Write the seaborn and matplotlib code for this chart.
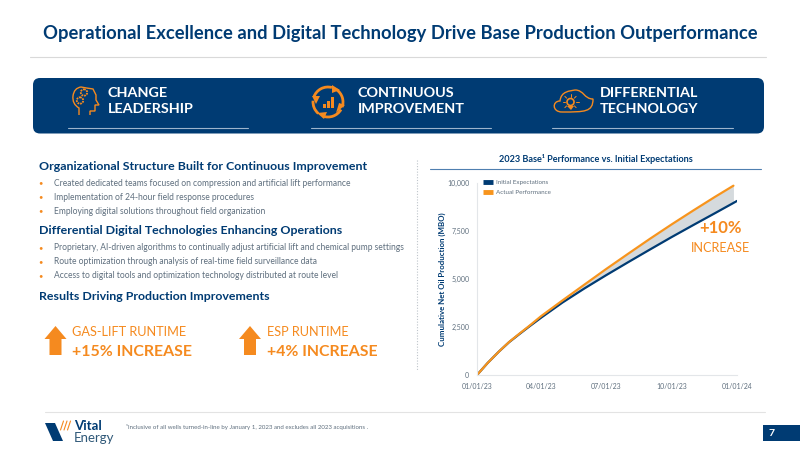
import numpy as np
import pandas as pd
import matplotlib
matplotlib.use('Agg')
import matplotlib.pyplot as plt
import matplotlib.dates as mdates
from matplotlib.patches import FancyBboxPatch, Polygon, Circle, Arc, Rectangle, PathPatch
from matplotlib.path import Path
import seaborn as sns

NAVY = '#003B73'
ORANGE = '#F58A1F'
LINE_ORANGE = '#F7941D'
GREY_TEXT = '#5F6F7E'

# chart data (MBO)
read_dates = ['2023-01-01', '2023-01-16', '2023-02-01', '2023-02-15', '2023-03-01', '2023-03-15', '2023-04-01',
              '2023-05-01', '2023-06-01', '2023-07-01', '2023-08-01', '2023-09-01', '2023-10-01', '2023-11-01',
              '2023-12-01', '2023-12-27']
initial_values = [0, 630, 1230, 1710, 2120, 2520, 2990, 3780, 4520, 5200, 5880, 6550, 7190, 7830, 8440, 8975]
actual_values = [0, 630, 1230, 1720, 2140, 2550, 3070, 3890, 4720, 5520, 6320, 7110, 7850, 8590, 9290, 9875]
initial_end = ('2024-01-01', 9080)

y_ticks = [0, 2500, 5000, 7500, 10000]
x_ticks = ['2023-01-01', '2023-04-01', '2023-07-01', '2023-10-01', '2024-01-01']

# slide text
title = 'Operational Excellence and Digital Technology Drive Base Production Outperformance'
pillars = ['CHANGE\nLEADERSHIP', 'CONTINUOUS\nIMPROVEMENT', 'DIFFERENTIAL\nTECHNOLOGY']
head_1 = 'Organizational Structure Built for Continuous Improvement'
bullets_1 = ['Created dedicated teams focused on compression and artificial lift performance',
             'Implementation of 24-hour field response procedures',
             'Employing digital solutions throughout field organization']
head_2 = 'Differential Digital Technologies Enhancing Operations'
bullets_2 = ['Proprietary, AI-driven algorithms to continually adjust artificial lift and chemical pump settings',
             'Route optimization through analysis of real-time field surveillance data',
             'Access to digital tools and optimization technology distributed at route level']
head_3 = 'Results Driving Production Improvements'

df_init = pd.DataFrame({'date': pd.to_datetime(read_dates + [initial_end[0]]),
                        'value': initial_values + [initial_end[1]]})
df_act = pd.DataFrame({'date': pd.to_datetime(read_dates), 'value': actual_values})

sns.set_theme(style='white')
plt.rcParams['font.family'] = ['Lato', 'DejaVu Sans']

fig = plt.figure(figsize=(8, 4.5), dpi=100, facecolor='white')

# background layer in slide pixels
bg = fig.add_axes([0, 0, 1, 1], zorder=0)
bg.set_xlim(0, 800)
bg.set_ylim(450, 0)
bg.axis('off')

bg.text(400.5, 33, title, ha='center', va='center', fontsize=13.2, fontweight='bold', color=NAVY)
bg.plot([30, 766], [57, 57], color='#D9D9D9', lw=0.8)

# banner
bg.add_patch(FancyBboxPatch((33, 78), 731, 55.5, boxstyle='round,pad=0,rounding_size=7', fc=NAVY, ec='none'))
for x0, s in zip([108, 358, 600], pillars):
    bg.text(x0, 101, s, ha='left', va='center', fontsize=10.4, fontweight='bold', color='white', linespacing=1.45)
for x0, x1 in [(68, 248), (311, 491), (552, 733)]:
    bg.plot([x0, x1], [127.5, 127.5], color='#9DB4CC', lw=0.8)

# head icon
head = Path([(79, 115), (79, 108), (72, 104), (73, 96), (74, 88), (81, 87), (86, 88), (93, 89), (96, 95), (96, 100),
             (99, 105), (95, 105), (95, 111), (90, 111), (90, 115)],
            [Path.MOVETO, Path.LINETO, Path.CURVE3, Path.CURVE3, Path.CURVE3, Path.CURVE3, Path.CURVE3, Path.CURVE3,
             Path.LINETO, Path.LINETO, Path.LINETO, Path.LINETO, Path.LINETO, Path.LINETO, Path.LINETO])
bg.add_patch(PathPatch(head, fc='none', ec=ORANGE, lw=1))
bg.add_patch(Circle((84, 92.5), 3.2, fc='none', ec=ORANGE, lw=1.3, ls=(0, (1, 0.5))))
bg.add_patch(Circle((80, 100.5), 3.2, fc='none', ec=ORANGE, lw=1.3, ls=(0, (1, 0.5))))

# improvement icon
for start, end in [(200, 285), (305, 20), (30, 110), (130, 185)]:
    bg.add_patch(Arc((328, 102), 30, 30, theta1=start, theta2=end, color=ORANGE, lw=2))
for pts in [[(332, 85), (340, 90), (332, 93)], [(345, 105), (336, 113), (339, 103)],
            [(324, 119), (317, 113), (327, 112)], [(312, 96), (320, 96), (316, 104)]]:
    bg.add_patch(Polygon(pts, fc=ORANGE, ec='none'))
for x0, h in [(323, 4), (327, 7), (331, 11)]:
    bg.add_patch(Rectangle((x0, 108 - h), 3, h, fc=ORANGE, ec='none'))

# cloud icon
cloud = Path([(562, 112), (552, 112), (552, 101), (560, 101), (561, 91), (570, 91), (575, 90), (584, 90), (584, 99),
              (593, 99), (593, 112), (585, 112), (562, 112)],
             [Path.MOVETO, Path.CURVE4, Path.CURVE4, Path.CURVE4, Path.CURVE4, Path.CURVE4, Path.CURVE4, Path.CURVE4,
              Path.CURVE4, Path.CURVE4, Path.CURVE4, Path.CURVE4, Path.LINETO])
bg.add_patch(PathPatch(cloud, fc='none', ec=ORANGE, lw=1))
bg.add_patch(Circle((570.5, 102), 3.5, fc='none', ec=ORANGE, lw=1.2))
bg.add_patch(Polygon([(567, 106), (574, 106), (571, 110)], fc=ORANGE, ec='none'))
for a in np.deg2rad([0, 45, 90, 135, 180, 225, 315]):
    bg.plot([570.5 + 5.5 * np.cos(a), 570.5 + 8 * np.cos(a)], [102 - 5.5 * np.sin(a), 102 - 8 * np.sin(a)], color=ORANGE, lw=0.7)

# left column
def bullets(items, ys):
    for s, y in zip(items, ys):
        bg.text(40.5, y, '•', ha='center', va='center', fontsize=5.5, color=ORANGE)
        bg.text(54, y, s, ha='left', va='center', fontsize=6.13, color=GREY_TEXT)

bg.text(39, 166, head_1, ha='left', va='center', fontsize=8.9, fontweight='bold', color=NAVY)
bullets(bullets_1, [183, 197, 211])
bg.text(39, 231, head_2, ha='left', va='center', fontsize=8.9, fontweight='bold', color=NAVY)
bullets(bullets_2, [248, 262, 276])
bg.text(39, 297, head_3, ha='left', va='center', fontsize=8.9, fontweight='bold', color=NAVY)

for x0, label, value, tx in [(55.5, 'GAS-LIFT RUNTIME', '+15% INCREASE', 72), (250, 'ESP RUNTIME', '+4% INCREASE', 267)]:
    bg.add_patch(Polygon([(x0 - 6, 355), (x0 + 6, 355), (x0 + 6, 339), (x0 + 11, 339), (x0, 326), (x0 - 11, 339), (x0 - 6, 339)],
                         fc=ORANGE, ec='none'))
    bg.text(tx, 332, label, ha='left', va='center', fontsize=9.2, color=ORANGE)
    bg.text(tx, 352, value, ha='left', va='center', fontsize=11.4, fontweight='bold', color=ORANGE)

bg.plot([417, 417], [160, 370], color='#BFC5CB', lw=0.8, ls=(0, (1, 1.5)))

# footer
bg.plot([45, 765], [412, 412], color='#E3E3E3', lw=0.8)
bg.add_patch(Polygon([(45, 423), (55, 423), (63, 441), (53, 441)], fc=NAVY, ec='none'))
for x0 in [60.5, 64, 67.5]:
    bg.plot([x0, x0 + 3], [430, 421], color=ORANGE, lw=0.8)
bg.text(74, 426.5, 'Vital', ha='left', va='center', fontsize=9.5, fontweight='bold', color=NAVY)
bg.text(74, 438, 'Energy', ha='left', va='center', fontsize=9.5, color='#2F5878')
bg.text(126, 427, '¹Inclusive of all wells turned-in-line by January 1, 2023 and excludes all 2023 acquisitions .',
        ha='left', va='center', fontsize=4.4, color=GREY_TEXT)
bg.add_patch(Rectangle((763, 425), 37, 16, fc=NAVY, ec='none'))
bg.text(772, 433, '7', ha='center', va='center', fontsize=7.5, fontweight='bold', color='white')

# chart title
bg.text(595.5, 159, '2023 Base¹ Performance vs. Initial Expectations', ha='center', va='center',
        fontsize=6.6, fontweight='bold', color=NAVY)
bg.plot([430, 761], [169, 169], color='#4F7FB0', lw=0.8)

# chart, axes box in slide pixels
left, right, top, bottom = 477, 737, 183.3, 375
ax = fig.add_axes([left / 800, 1 - bottom / 450, (right - left) / 800, (bottom - top) / 450], zorder=1)
ax.patch.set_alpha(0)

ax.fill_between(df_act['date'], initial_values, actual_values, color='#D5DADD', lw=0)
sns.lineplot(data=df_init, x='date', y='value', ax=ax, color=NAVY, lw=1.6, label='Initial Expectations')
sns.lineplot(data=df_act, x='date', y='value', ax=ax, color=LINE_ORANGE, lw=1.6, label='Actual Performance')

ax.set_xlim(pd.Timestamp(x_ticks[0]), pd.Timestamp(x_ticks[-1]))
ax.set_ylim(0, 10000)
ax.set_yticks(y_ticks)
ax.set_yticklabels([f'{v:,}' for v in y_ticks])
ax.set_xticks(pd.to_datetime(x_ticks))
ax.xaxis.set_major_formatter(mdates.DateFormatter('%m/%d/%y'))
ax.tick_params(axis='both', length=0, labelsize=5, labelcolor=GREY_TEXT, pad=5.5)
ax.set_xlabel('')
ax.set_ylabel('Cumulative Net Oil Production (MBO)', fontsize=5.7, fontweight='bold', color=NAVY, labelpad=0.5)
sns.despine(ax=ax)
for side in ['left', 'bottom']:
    ax.spines[side].set_color('#E3E6E9')
    ax.spines[side].set_linewidth(0.8)

ax.legend(loc='upper left', bbox_to_anchor=(0.022, 1.02), frameon=False, fontsize=4.5, labelcolor=GREY_TEXT,
          handlelength=1.6, handleheight=0.6, labelspacing=0.85, borderpad=0, handletextpad=0.5, borderaxespad=0)
for h in ax.get_legend().get_lines():
    h.set_linewidth(3.5)
    h.set_solid_capstyle('butt')

bg.text(720, 228, '+10%', ha='center', va='center', fontsize=12, fontweight='bold', color=ORANGE)
bg.text(720, 248, 'INCREASE', ha='center', va='center', fontsize=9.1, color=ORANGE)

fig.savefig('out.png', dpi=100)
plt.close(fig)
